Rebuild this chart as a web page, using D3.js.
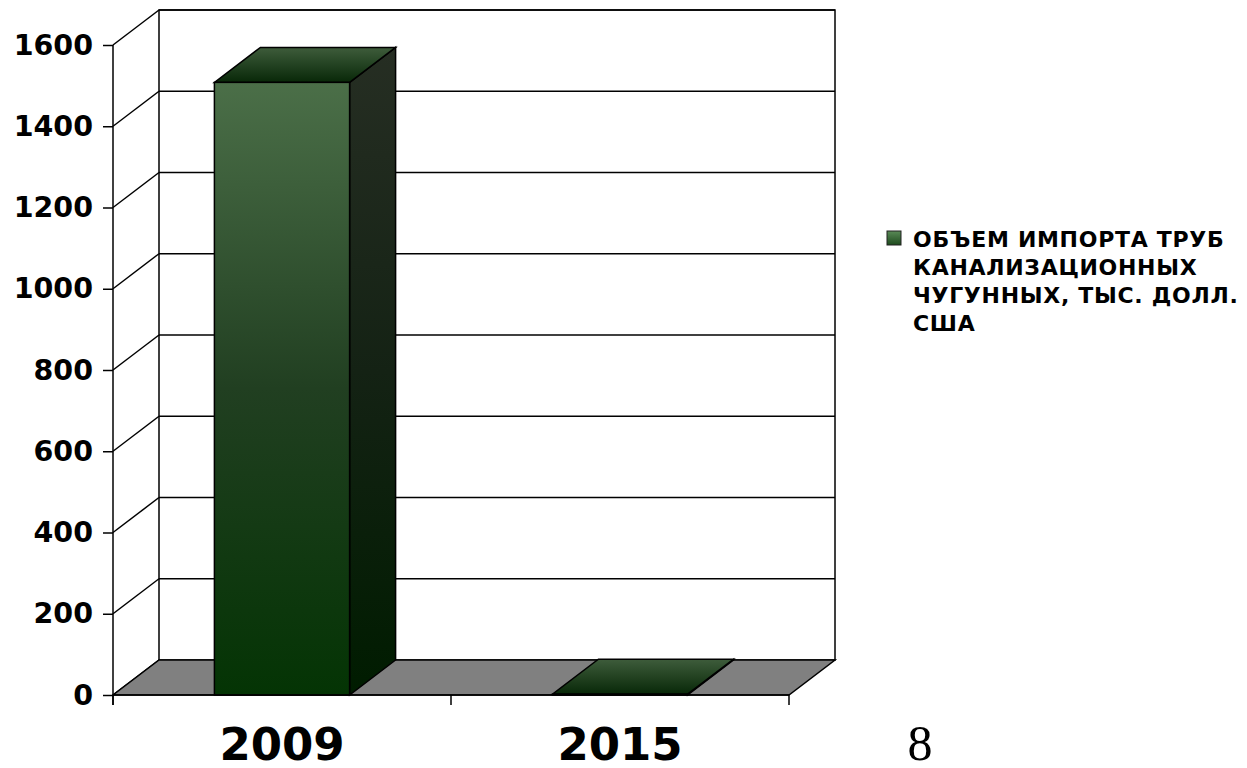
<!DOCTYPE html>
<html>
<head>
<meta charset="utf-8">
<script src="https://cdn.jsdelivr.net/npm/d3@7"></script>
<style>
  body { margin: 0; background: #fff; }
  text { font-family: "DejaVu Sans", Verdana, sans-serif; font-weight: bold; }
</style>
</head>
<body>
<svg id="chart" width="1247" height="768"></svg>
<script>
// data
var years = ["2009", "2015"];
var importValues = [1508, 2];
var yTickValues = [0, 200, 400, 600, 800, 1000, 1200, 1400, 1600];
var legendLines = ["ОБЪЕМ ИМПОРТА ТРУБ", "КАНАЛИЗАЦИОННЫХ", "ЧУГУННЫХ, ТЫС. ДОЛЛ.", "США"];
var pageNumber = "8";

var svg = d3.select("#chart");

// plot box (front plane) and depth offset
var plotLeft = 113, plotRight = 789, plotBottom = 695, plotTop = 45;
var dx = 46, dy = -35;

var y = d3.scaleLinear().domain([0, 1600]).range([plotBottom, plotTop]);
var x = d3.scaleBand().domain(years).range([plotLeft, plotRight]).padding(0);
var barW = x.bandwidth() * 0.4;

// gradients
var defs = svg.append("defs");
function grad(id, stops) {
    var g = defs.append("linearGradient").attr("id", id)
        .attr("x1", 0).attr("y1", 0).attr("x2", 0).attr("y2", 1);
    stops.forEach(function(s) {
        g.append("stop").attr("offset", s[0]).attr("stop-color", s[1]);
    });
}
grad("gFront", [[0, "#4b6f48"], [0.5, "#213f21"], [1, "#043404"]]);
grad("gSide", [[0, "#262e23"], [0.5, "#142214"], [1, "#001c00"]]);
grad("gTop", [[0, "#3e5c3b"], [1, "#082808"]]);
grad("gLegend", [[0, "#5a8a57"], [1, "#1d4a1d"]]);

// back wall
var walls = svg.append("g").attr("class", "walls");
walls.append("rect")
    .attr("x", plotLeft + dx).attr("y", plotTop + dy)
    .attr("width", plotRight - plotLeft).attr("height", plotBottom - plotTop)
    .attr("fill", "#fff").attr("stroke", "#000").attr("stroke-width", 1.5);

// gridlines on back wall and left wall
yTickValues.forEach(function(v) {
    if (v > 0) {
        walls.append("line")
            .attr("x1", plotLeft + dx).attr("x2", plotRight + dx)
            .attr("y1", y(v) + dy).attr("y2", y(v) + dy)
            .attr("stroke", "#000").attr("stroke-width", 1.5);
    }
    walls.append("line")
        .attr("x1", plotLeft).attr("y1", y(v))
        .attr("x2", plotLeft + dx).attr("y2", y(v) + dy)
        .attr("stroke", "#000").attr("stroke-width", 1.5);
});

// floor
walls.append("polygon")
    .attr("points", [[plotLeft, plotBottom], [plotRight, plotBottom],
        [plotRight + dx, plotBottom + dy], [plotLeft + dx, plotBottom + dy]].join(" "))
    .attr("fill", "#808080").attr("stroke", "#000").attr("stroke-width", 1.5);

// bars
var bars = svg.append("g").attr("class", "bars")
    .selectAll("g")
    .data(years.map(function(d, i) { return { year: d, value: importValues[i] }; }))
    .enter().append("g");

function bx(d) { return x(d.year) + (x.bandwidth() - barW) / 2; }

bars.append("polygon") // side
    .attr("points", function(d) {
        var x0 = bx(d) + barW, yt = y(d.value);
        return [[x0, yt], [x0 + dx, yt + dy], [x0 + dx, plotBottom + dy], [x0, plotBottom]].join(" ");
    })
    .attr("fill", "url(#gSide)").attr("stroke", "#000").attr("stroke-width", 1.5);

bars.append("polygon") // top
    .attr("points", function(d) {
        var x0 = bx(d), yt = y(d.value);
        return [[x0, yt], [x0 + barW, yt], [x0 + barW + dx, yt + dy], [x0 + dx, yt + dy]].join(" ");
    })
    .attr("fill", "url(#gTop)").attr("stroke", "#000").attr("stroke-width", 1.5);

bars.append("rect") // front
    .attr("x", bx)
    .attr("y", function(d) { return y(d.value); })
    .attr("width", barW)
    .attr("height", function(d) { return plotBottom - y(d.value); })
    .attr("fill", "url(#gFront)").attr("stroke", "#000").attr("stroke-width", 1.5);

// y axis
var yAxis = svg.append("g")
    .attr("transform", "translate(" + plotLeft + ",0)")
    .call(d3.axisLeft(y).tickValues(yTickValues).tickFormat(d3.format("d"))
        .tickSize(10).tickSizeOuter(0).tickPadding(10));
yAxis.select(".domain").attr("stroke-width", 1.5).attr("d", "M0," + plotTop + "V" + (plotBottom + 10));
yAxis.selectAll(".tick line").attr("stroke-width", 1.5);
yAxis.selectAll("text").attr("font-size", 28.5).attr("fill", "#000")
    .attr("font-family", "DejaVu Sans").attr("font-weight", "bold");

// x axis (category ticks at band edges)
var xg = svg.append("g");
var edges = [plotLeft].concat(years.map(function(d) { return x(d) + x.bandwidth(); }));
xg.selectAll("line.tk").data(edges).enter().append("line")
    .attr("class", "tk")
    .attr("x1", function(d) { return d; }).attr("x2", function(d) { return d; })
    .attr("y1", plotBottom).attr("y2", plotBottom + 10)
    .attr("stroke", "#000").attr("stroke-width", 1.5);
xg.append("line").attr("x1", plotLeft).attr("x2", plotRight)
    .attr("y1", plotBottom).attr("y2", plotBottom)
    .attr("stroke", "#000").attr("stroke-width", 1.5);
xg.selectAll("text").data(years).enter().append("text")
    .attr("x", function(d) { return x(d) + x.bandwidth() / 2; })
    .attr("y", 760)
    .attr("text-anchor", "middle")
    .attr("font-size", 45)
    .text(function(d) { return d; });

// legend
var legend = svg.append("g").attr("transform", "translate(887,231)");
legend.append("rect").attr("width", 14).attr("height", 14)
    .attr("fill", "url(#gLegend)").attr("stroke", "#222").attr("stroke-width", 1);
legend.selectAll("text").data(legendLines).enter().append("text")
    .attr("x", 26)
    .attr("y", function(d, i) { return 16 + i * 28; })
    .attr("font-size", 22)
    .attr("letter-spacing", 0.7)
    .text(function(d) { return d; });

// page number
svg.append("text")
    .attr("x", 920).attr("y", 760)
    .attr("text-anchor", "middle")
    .style("font-family", "'Liberation Serif', 'Times New Roman', serif")
    .style("font-weight", "normal")
    .attr("font-size", 50)
    .text(pageNumber);
</script>
</body>
</html>
